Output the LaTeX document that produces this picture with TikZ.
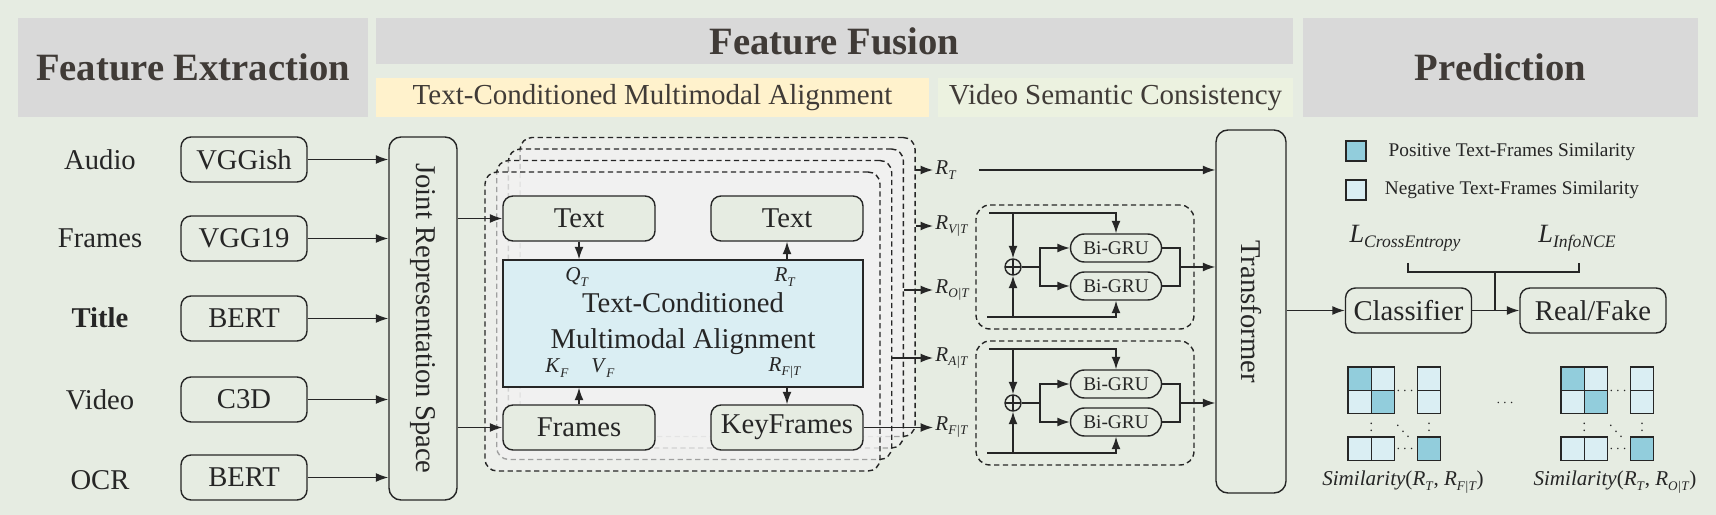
\documentclass[tikz,border=0pt]{standalone}
\usepackage{fontspec}
\setmainfont{Liberation Serif}
\usepackage{tikz}
\usetikzlibrary{arrows.meta}
\newcommand\sz[1]{\fontsize{#1}{#1}\selectfont}
\newcommand\idx[3][7.5]{\textit{#2}\raisebox{-0.45ex}{\sz{#1}\textit{#3}}}
\definecolor{page_bg}{RGB}{230,236,226}
\definecolor{head_gray}{RGB}{217,217,217}
\definecolor{head_text}{RGB}{64,59,55}
\definecolor{sub_yellow}{RGB}{255,242,204}
\definecolor{sub_green}{RGB}{236,242,224}
\definecolor{layer_gray}{RGB}{242,242,242}
\definecolor{box_blue}{RGB}{218,238,243}
\definecolor{sim_pos}{RGB}{146,205,220}
\definecolor{sim_neg}{RGB}{218,238,243}
\definecolor{ink}{RGB}{38,38,38}

\begin{document}
\begin{tikzpicture}[->,thick,>={Latex[length=2.5mm,width=1.8mm]},x=0.2mm,y=-0.2mm,color=ink]
    \tikzstyle{hdr}=[fill=head_gray, text=head_text, inner sep=0pt, font=\sz{22}\bfseries]
    \tikzstyle{sub}=[inner sep=0pt, minimum height=7.8mm, text=head_text, font=\sz{16.5}]
    \tikzstyle{box}=[draw, rounded corners=2mm, minimum width=25.2mm, minimum height=9mm, inner sep=0pt, font=\sz{16.3}]
    \tikzstyle{wbox}=[style=box, fill=page_bg, minimum width=30.4mm]
    \tikzstyle{tall}=[draw, rounded corners=2.4mm, fill=page_bg, minimum width=13.6mm, minimum height=72.6mm]
    \tikzstyle{stack}=[draw, rounded corners=2.4mm, dash pattern=on 3pt off 2pt, fill=layer_gray, fill opacity=0.6, minimum width=79mm, minimum height=59.8mm]
    \tikzstyle{gbox}=[draw, rounded corners=2.8mm, dash pattern=on 3pt off 2pt, minimum width=43.6mm, minimum height=24.8mm]
    \tikzstyle{gru}=[draw, rounded corners=2.8mm, minimum width=18.2mm, minimum height=5.6mm, inner sep=0pt, font=\sz{11}]
    \tikzstyle{sumnode}=[draw, circle, minimum size=3.2mm, inner sep=0pt,
        path picture={\draw[-] (path picture bounding box.north) -- (path picture bounding box.south)
                               (path picture bounding box.west) -- (path picture bounding box.east);}]
    \tikzstyle{lab}=[inner sep=1pt, font=\sz{12}]
    \tikzstyle{txt}=[font=\sz{16.3}]
    \tikzstyle{sq}=[draw, minimum size=4mm, inner sep=0pt]

    \useasboundingbox (0,0) rectangle (1716,515);
    \fill[page_bg] (0,0) rectangle (1716,515);

    % headers
    \node[hdr, minimum width=70mm, minimum height=19.8mm] (hext) at (193,67.5) {Feature Extraction};
    \node[hdr, minimum width=183.4mm, minimum height=9.2mm] (hfus) at (834.5,41) {Feature Fusion};
    \node[sub, fill=sub_yellow, minimum width=110.6mm] (htcm) at (652.5,97.5) {Text-Conditioned Multimodal Alignment};
    \node[sub, fill=sub_green, minimum width=71mm] (hvsc) at (1115.5,97.5) {Video Semantic Consistency};
    \node[hdr, minimum width=79mm, minimum height=19.8mm] (hpre) at (1500.5,67.5) {Prediction};

    % feature extraction
    \node[txt] (laudio) at (100,160) {Audio};
    \node[txt] (lframes) at (100,238) {Frames};
    \node[txt] (ltitle) at (100,318) {\bfseries Title};
    \node[txt] (lvideo) at (100,400) {Video};
    \node[txt] (locr) at (100,480) {OCR};
    \node[box] (vggish) at (244,159.5) {VGGish};
    \node[box] (vgg19) at (244,238.5) {VGG19};
    \node[box] (bert1) at (244,318.5) {BERT};
    \node[box] (c3d) at (244,399.5) {C3D};
    \node[box] (bert2) at (244,477.5) {BERT};
    \node[tall] (joint) at (423,318.5) {};
    \node[txt, rotate=-90] (jointtxt) at (joint) {Joint Representation Space};
    \path
     (vggish) edge (vggish -| joint.west)
     (vgg19) edge (vgg19 -| joint.west)
     (bert1) edge (bert1 -| joint.west)
     (c3d) edge (c3d -| joint.west)
     (bert2) edge (bert2 -| joint.west)
     ;

    % alignment stack
    \foreach \i in {3,2,1,0}
      \node[stack] (stack\i) at (682.5+11.7*\i,321.5-11.5*\i) {};
    \node[wbox] (textq) at (579,218.5) {Text};
    \node[wbox] (textr) at (787,218.5) {Text};
    \node[draw, fill=box_blue, minimum width=72mm, minimum height=25.4mm, align=center,
          font=\fontsize{16.3}{20.4}\selectfont] (tcma) at (683,323.5) {Text-Conditioned\\Multimodal Alignment};
    \node[wbox] (frames) at (579,427.5) {Frames};
    \node[wbox] (keyfr) at (787,427.5) {KeyFrames};
    \node[lab] (qt) at (577,277) {\idx{Q}{T}};
    \node[lab] (rtin) at (785,277) {\idx{R}{T}};
    \node[lab] (kf) at (557,368) {\idx{K}{F}};
    \node[lab] (vf) at (603,368) {\idx{V}{F}};
    \node[lab] (rftin) at (785,368) {\idx{R}{F|T}};
    \path
     (joint.east |- textq) edge (textq)
     (joint.east |- frames) edge (frames)
     (textq) edge (textq |- tcma.north)
     (textr |- tcma.north) edge (textr)
     (frames) edge (frames |- tcma.south)
     (keyfr |- tcma.south) edge (keyfr)
     ;

    % outputs of the stack
    \node[lab, anchor=west] (rt) at (933,170) {\idx{R}{T}};
    \node[lab, anchor=west] (rvt) at (933,226) {\idx{R}{V|T}};
    \node[lab, anchor=west] (rot) at (933,290) {\idx{R}{O|T}};
    \node[lab, anchor=west] (rat) at (933,358) {\idx{R}{A|T}};
    \node[lab, anchor=west] (rft) at (933,427) {\idx{R}{F|T}};
    \path
     (stack3.east |- rt) edge (rt)
     (stack3.east |- rvt) edge (rvt)
     (stack2.east |- rot) edge (rot)
     (stack1.east |- rat) edge (rat)
     (keyfr.east) edge (keyfr.east -| rft.west)
     ;

    % transformer
    \node[tall, minimum width=14mm] (tf) at (1251,311.5) {};
    \node[txt, rotate=-90] (tftxt) at (tf) {Transformer};
    \draw ([xshift=4mm]rt.east) -- (rt -| tf.west);

    % video semantic consistency
    \foreach \k/\dy in {1/0,2/136}{
      \node[gbox] (gbox\k) at (1085,267+\dy) {};
      \node[gru] (gua\k) at (1116,248+\dy) {Bi-GRU};
      \node[gru] (gub\k) at (1116,286+\dy) {Bi-GRU};
      \node[sumnode] (sum\k) at (1013,267+\dy) {};
      \coordinate (top\k) at (989,213+\dy);
      \coordinate (bot\k) at (987,317+\dy);
      \coordinate (spl\k) at (1040,267+\dy);
      \coordinate (mrg\k) at (1180,267+\dy);
      \draw (top\k) -| (gua\k);
      \draw (bot\k) -| (gub\k);
      \path
       (top\k -| sum\k) edge (sum\k)
       (bot\k -| sum\k) edge (sum\k)
       ;
      \draw[-] (sum\k) -- (spl\k);
      \draw (spl\k) |- (gua\k);
      \draw (spl\k) |- (gub\k);
      \draw[-] (gua\k) -| (mrg\k) |- (gub\k);
      \draw (mrg\k) -- (mrg\k -| tf.west);
    }

    % prediction
    \node[sq, fill=sim_pos] (lpos) at (1356,151) {};
    \node[sq, fill=sim_neg] (lneg) at (1356,190) {};
    \node[font=\sz{11}] (tpos) at (1512,152) {Positive Text-Frames Similarity};
    \node[font=\sz{11}] (tneg) at (1512,190) {Negative Text-Frames Similarity};
    \node[font=\sz{15}] (lce) at (1405,238) {\idx[10]{L}{CrossEntropy}};
    \node[font=\sz{15}] (lnce) at (1577,238) {\idx[10]{L}{InfoNCE}};
    \node[box] (cls) at (1408.5,310.5) {Classifier};
    \node[box, minimum width=29.2mm] (rf) at (1593,310.5) {Real/Fake};
    \coordinate (brl) at (1408,263);
    \coordinate (brr) at (1579,263);
    \coordinate (brm) at (1495,272);
    \path
     (tf.east |- cls) edge (cls)
     (cls) edge (rf)
     ;
    \draw[-] (brl) -- (brl |- brm) -- (brr |- brm) -- (brr);
    \draw[-] (brm) -- (brm |- cls);

    % similarity matrices
    \foreach \m/\mx in {1/1348,2/1561}{
      \foreach \cx/\cy/\cc in {0/0/sim_pos,23.3/0/sim_neg,69.3/0/sim_neg,
                               0/23.3/sim_neg,23.3/23.3/sim_pos,69.3/23.3/sim_neg,
                               0/70/sim_neg,23.3/70/sim_neg,69.3/70/sim_pos}
        \draw[-, fill=\cc] (\mx+\cx,367+\cy) rectangle ++(23.3,23.3);
      \node[inner sep=0pt, font=\sz{8}] (hda\m) at (\mx+57,391) {$\cdots$};
      \node[inner sep=0pt, font=\sz{8}] (hdb\m) at (\mx+57,449) {$\cdots$};
      \node[inner sep=0pt, font=\sz{8}] (vda\m) at (\mx+23.3,426) {$\vdots$};
      \node[inner sep=0pt, font=\sz{8}] (vdb\m) at (\mx+81,426) {$\vdots$};
      \node[inner sep=0pt, font=\sz{8}] (dd\m) at (\mx+55,426) {$\ddots$};
    }
    \node[inner sep=0pt, font=\sz{8}] (hdm) at (1505,403) {$\cdots$};
    \node[font=\sz{12}] (cap1) at (1403,482) {\textit{Similarity}(\idx{R}{T}, \idx{R}{F|T})};
    \node[font=\sz{12}] (cap2) at (1615,482) {\textit{Similarity}(\idx{R}{T}, \idx{R}{O|T})};
  \end{tikzpicture}
\end{document}
